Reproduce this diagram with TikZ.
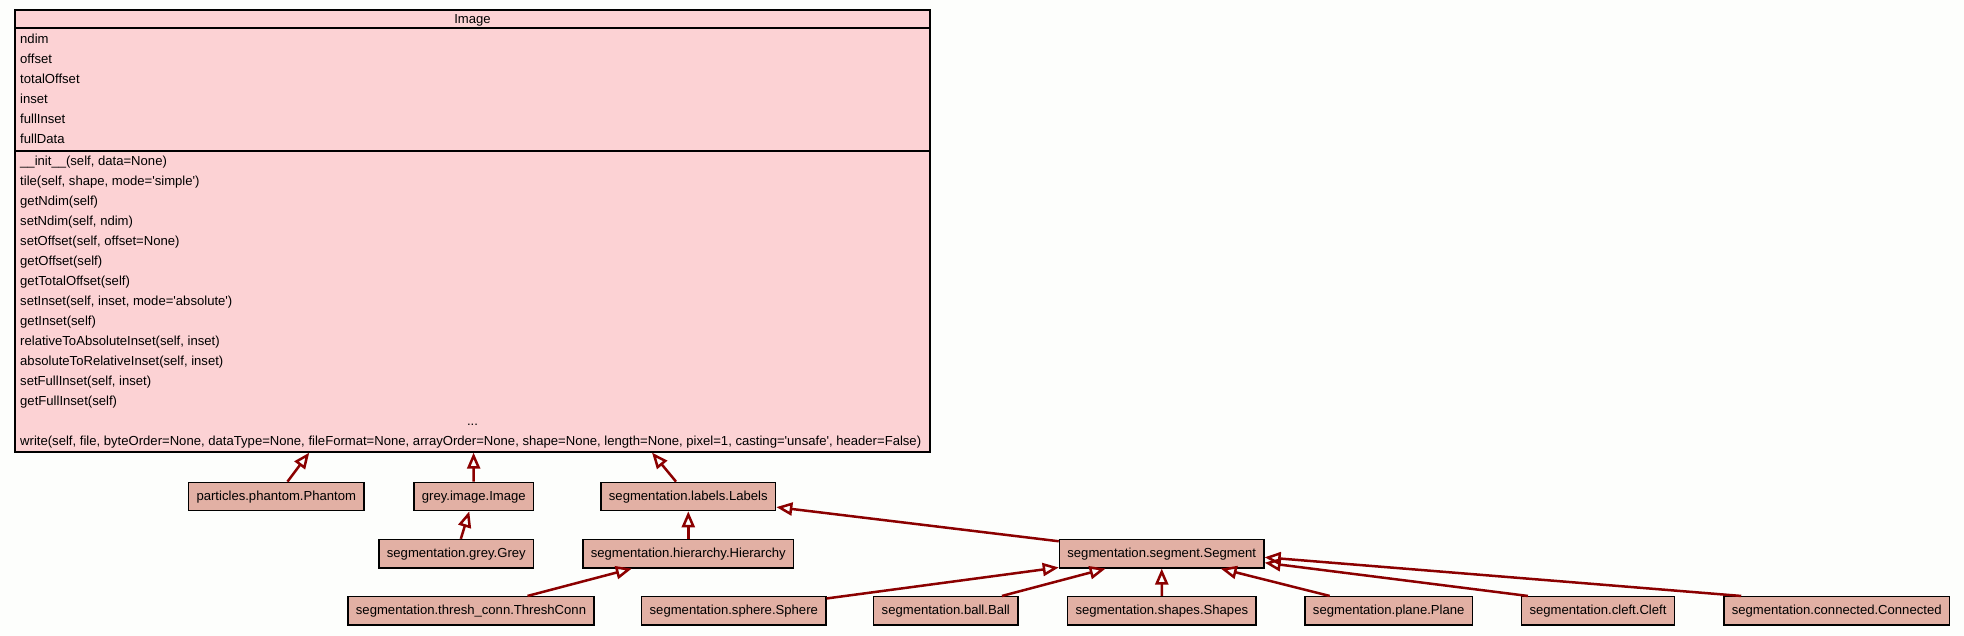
\documentclass[tikz,border=0pt]{standalone}
\usepackage{fontspec}
\setmainfont{Liberation Sans}
\usetikzlibrary{arrows.meta}
\definecolor{pagebg}{RGB}{253,254,252}
\definecolor{classpink}{RGB}{252,210,212}
\definecolor{subclass}{RGB}{226,176,164}
\definecolor{isared}{RGB}{139,0,0}
\newcommand\tq{\textquotesingle}

\begin{document}
\begin{tikzpicture}[x=1pt, y=-1pt,
    cls/.style = {draw=black, line width=1.3pt, fill=subclass, font=\fontsize{13.1}{15}\selectfont,
                  minimum height=28.4pt, inner xsep=8pt, text height=10pt, text depth=2pt},
    member/.style = {anchor=base west, inner sep=0pt, font=\fontsize{13.1}{15}\selectfont},
    isa/.style = {every edge/.style = {draw=isared, line width=2.5pt, -{Triangle[open, length=16pt, width=13pt]}}}]

  \fill[pagebg] (0,0) rectangle (1964,636);

  % base class
  \node[draw=black, line width=1.3pt, fill=classpink, minimum width=915pt, minimum height=442pt, inner sep=0pt] (image) at (472.5,231) {};
  \node[member, anchor=base] (title) at (472.5,24) {Image};
  \draw[line width=1.3pt] (image.west |- 0,28) -- (image.east |- 0,28)
                          (image.west |- 0,151) -- (image.east |- 0,151);
  \foreach \a [count=\i from 0] in {ndim, offset, totalOffset, inset, fullInset, fullData}
    \node[member] (attr-\i) at (20, 43.3+20*\i) {\a};
  \foreach \m [count=\i from 0] in {{\_\_init\_\_(self, data=None)}, {tile(self, shape, mode=\tq simple\tq)},
      {getNdim(self)}, {setNdim(self, ndim)}, {setOffset(self, offset=None)}, {getOffset(self)},
      {getTotalOffset(self)}, {setInset(self, inset, mode=\tq absolute\tq)}, {getInset(self)},
      {relativeToAbsoluteInset(self, inset)}, {absoluteToRelativeInset(self, inset)},
      {setFullInset(self, inset)}, {getFullInset(self)}}
    \node[member] (meth-\i) at (20, 165.4+20*\i) {\m};
  \node[member, anchor=base] (dots) at (472.5, 425.4) {...};
  \node[member] (write) at (20, 445.4) {write(self, file, byteOrder=None, dataType=None, fileFormat=None, arrayOrder=None, shape=None, length=None, pixel=1, casting=\tq unsafe\tq, header=False)};

  % subclasses
  \node[cls] (phantom)    at (276.3,496.5)  {particles.phantom.Phantom};
  \node[cls] (greyimage)  at (473.8,496.5)  {grey.image.Image};
  \node[cls] (labels)     at (688.3,496.5)  {segmentation.labels.Labels};
  \node[cls] (grey)       at (456.3,553.7)  {segmentation.grey.Grey};
  \node[cls] (hierarchy)  at (688.3,553.7)  {segmentation.hierarchy.Hierarchy};
  \node[cls] (segment)    at (1161.7,553.7) {segmentation.segment.Segment};
  \node[cls] (threshconn) at (471,610.8)    {segmentation.thresh\_conn.ThreshConn};
  \node[cls] (sphere)     at (733.8,610.8)  {segmentation.sphere.Sphere};
  \node[cls] (ball)       at (945.8,610.8)  {segmentation.ball.Ball};
  \node[cls] (shapes)     at (1161.8,610.8) {segmentation.shapes.Shapes};
  \node[cls] (plane)      at (1388.7,610.8) {segmentation.plane.Plane};
  \node[cls] (cleft)      at (1598,610.8)   {segmentation.cleft.Cleft};
  \node[cls] (connected)  at (1836.7,610.8) {segmentation.connected.Connected};

  \path[isa] (phantom)    edge (image)
             (greyimage)  edge (image)
             (labels)     edge (image)
             (grey)       edge (greyimage)
             (hierarchy)  edge (labels)
             (segment)    edge (labels)
             (threshconn) edge (hierarchy)
             (sphere)     edge (segment)
             (ball)       edge (segment)
             (shapes)     edge (segment)
             (plane)      edge (segment);
  \path[isa] ([xshift=7pt]cleft.north west)      edge (segment.-5.4)
             ([xshift=18pt]connected.north west) edge (segment.-2.6);
\end{tikzpicture}
\end{document}
